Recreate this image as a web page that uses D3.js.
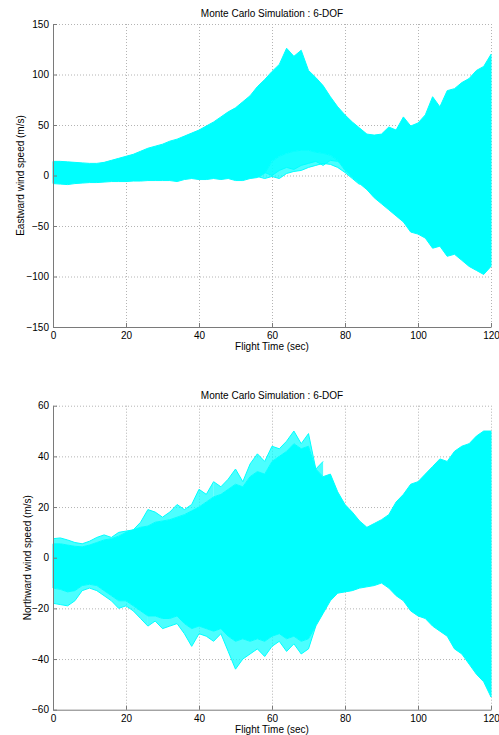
<!DOCTYPE html>
<html>
<head>
<meta charset="utf-8">
<script src="https://cdnjs.cloudflare.com/ajax/libs/d3/7.8.5/d3.min.js"></script>
<style>
body { margin: 0; background: #fff; }
text { font-family: "Liberation Sans", Arial, sans-serif; font-size: 10px; fill: #000; }
.grid line { stroke: #b4b4b4; stroke-width: 1; stroke-dasharray: 1,2; }
.axis path, .axis line { stroke: #7a7a7a; }
</style>
</head>
<body>
<svg class="chart"></svg>
<script>
var WIDTH = 499, HEIGHT = 735;
var LEFT = 53, RIGHT = 491;
var CYAN = "#00ffff";

// sample times (sec)
var TIME = [0,2,4,6,8,10,12,14,16,18,
	20,22,24,26,28,30,32,34,36,38,
	40,42,44,46,48,50,52,54,56,58,
	60,62,64,66,68,70,72,74,76,78,
	80,82,84,86,88,90,92,94,96,98,
	100,102,104,106,108,110,112,114,116,118,
	120];
var X_TICKS = [0, 20, 40, 60, 80, 100, 120];

// eastward wind : envelope of the bulk of the runs
var EAST_UPPER = [14,14,13.5,13,12.5,12,12,13,15,17,
	19,21,24,27,29,31,34,36,39,42,
	45,49,53,58,63,67,73,79,88,95,
	103,110,126,118,124,104,97,89,78,68,
	60,53,47,41,40,41,48,45,58,49,
	52,60,78,68,84,86,92,96,104,108,
	120];
var EAST_LOWER = [-8,-8.5,-9,-8,-7.5,-7,-7,-6.5,-6,-6,
	-6,-5.5,-5.5,-5,-5,-5,-5,-6,-4,-3,
	-4,-4,-3,-4,-3,-5,-5,-3,-2,2,
	14,19,22,24,25,25,23,22,20,15,
	5,-2,-8,-14,-22,-28,-34,-40,-46,-56,
	-58,-62,-72,-70,-80,-78,-84,-90,-94,-98,
	-90];
// single runs straying out of the bulk
var EAST_STRAY_A_T = [56,58,60,62,64,66,68,70,72,74,76,78,80,82,84];
var EAST_STRAY_A = [-1,-3,-1,-3,2,4,5,8,10,12,11,8,3,-3,-9];
var EAST_STRAY_B_T = [58,60,62,64,66,68,70,72,74,76,78,80];
var EAST_STRAY_B = [3,0,5,8,6,10,12,14,10,15,14,10];
var EAST_TICKS = [-150, -100, -50, 0, 50, 100, 150];

// northward wind : envelope of the bulk of the runs
var NORTH_UPPER = [5.5,5.5,5,4.5,4.3,5,6,7,7.5,8.5,
	10,11,12,12.5,14,14.5,15,16,17,18.5,
	20,22,24,25,27,29,28,32,34,33,
	38,40,42,45,43,44,35,32,33,26,
	21,18,14.5,12,13.5,15,17,22,25,29,
	30,33,36,39,38,42,44,45,48,50,
	50];
var NORTH_LOWER = [-12,-12.5,-13.5,-13,-11,-10.5,-11,-13,-15,-17,
	-17,-19,-21,-23,-23,-24,-24,-23,-26,-28,
	-27,-28,-29,-28,-31,-33,-32,-33,-32,-33,
	-31,-30,-32,-31,-33,-32,-27,-22,-17,-14,
	-13.5,-13,-12,-11.5,-11,-10,-12,-15,-17,-21,
	-23,-24,-27,-29,-31,-36,-38,-42,-46,-49,
	-55];
var NORTH_STRAY_A_T = [0,2,4,6,8,10,12,14,16,18,20,22,24,26,28,30,32,34,36,38,40,42,44];
var NORTH_STRAY_A = [7.5,7.8,7,6,5.5,6.5,8,9,8,10,10.5,11,14,19,18,16,18,21,19,21,27,25,30];
var NORTH_STRAY_B_T = [44,46,48,50,52,54,56,58,60,62,64,66,68,70,72,74];
var NORTH_STRAY_B = [30,28,31,35,30,37,41,38,44,43,46,50,45,49,35,38];
var NORTH_STRAY_C_T = [0,2,4,6,8,10,12,14,16,18,20,22,24,26];
var NORTH_STRAY_C = [-18,-18.5,-19,-17,-13,-12,-13,-15,-17,-20,-19,-21,-24,-27];
var NORTH_STRAY_D_T = [26,28,30,32,34,36,38,40,42,44,46,48,50,52,54,56,58,60,62,64,66,68,70,72];
var NORTH_STRAY_D = [-27,-25,-28,-27,-26,-30,-35,-30,-31,-33,-30,-37,-44,-40,-38,-36,-39,-35,-33,-37,-34,-38,-36,-27];
var NORTH_TICKS = [-60, -40, -20, 0, 20, 40, 60];

var svg = d3.select(".chart").attr("width", WIDTH).attr("height", HEIGHT);

function panel( top, bottom, yTicks, upper, lower, strays, ylabel ) {
	var x = d3.scaleLinear().domain([ 0, 120 ]).range([ LEFT, RIGHT ]);
	var y = d3.scaleLinear().domain([ yTicks[0], yTicks[yTicks.length - 1] ]).range([ bottom, top ]);
	var g = svg.append("g");

	// dotted grid under the data
	var grid = g.append("g").attr("class", "grid");
	grid.selectAll("line.v").data( X_TICKS.slice(1) ).enter().append("line").attr("class", "v")
		.attr("x1", d => x(d) + 0.5).attr("x2", d => x(d) + 0.5).attr("y1", top).attr("y2", bottom);
	grid.selectAll("line.h").data( yTicks.slice(1) ).enter().append("line").attr("class", "h")
		.attr("x1", LEFT).attr("x2", RIGHT).attr("y1", d => y(d) + 0.5).attr("y2", d => y(d) + 0.5);

	// the fringe between a stray run and the bulk is only partly covered
	var band = d3.area().x( d => x(d.t) ).y0( d => y(d.a) ).y1( d => y(d.b) );
	strays.forEach( s => {
		var rows = s[0].map( (t, i) => {
			var k = TIME.indexOf(t), v = s[1][i];
			var edge = v > upper[k] ? upper[k] : ( v < lower[k] ? lower[k] : v );
			return { t: t, a: v, b: edge };
		});
		g.append("path").datum( rows ).attr("d", band).attr("fill", CYAN).attr("fill-opacity", 0.7);
	});

	var rows = TIME.map( (t, i) => ({ t: t, a: lower[i], b: upper[i] }) );
	g.append("path").datum( rows ).attr("d", band).attr("fill", CYAN).attr("stroke", CYAN).attr("stroke-width", 1);

	var line = d3.line().x( d => x(d[0]) ).y( d => y(d[1]) );
	strays.forEach( s => {
		g.append("path").datum( s[0].map( (t, i) => [ t, s[1][i] ] ) ).attr("d", line)
			.attr("fill", "none").attr("stroke", CYAN).attr("stroke-width", 1);
	});

	// axes : left and bottom only, ticks pointing in
	g.append("g").attr("class", "axis").attr("transform", "translate(" + LEFT + ",0)")
		.call( d3.axisLeft(y).tickValues( yTicks ).tickSizeInner(-4).tickSizeOuter(0).tickPadding(4) )
		.call( a => a.selectAll("text").style("font-size", "10px").style("font-family", null) );
	g.append("g").attr("class", "axis").attr("transform", "translate(0," + bottom + ")")
		.call( d3.axisBottom(x).tickValues( X_TICKS ).tickSizeInner(-4).tickSizeOuter(0).tickPadding(5) )
		.call( a => a.selectAll("text").style("font-size", "10px").style("font-family", null) );

	g.append("text").attr("x", (LEFT + RIGHT) / 2).attr("y", top - 7).attr("text-anchor", "middle").text("Monte Carlo Simulation : 6-DOF");
	g.append("text").attr("x", (LEFT + RIGHT) / 2).attr("y", bottom + 23).attr("text-anchor", "middle").text("Flight Time (sec)");
	g.append("text").attr("transform", "translate(" + ylabel.x + "," + (top + bottom) / 2 + ") rotate(-90)")
		.attr("text-anchor", "middle").text( ylabel.text );
}

panel( 24, 327, EAST_TICKS, EAST_UPPER, EAST_LOWER,
	[ [EAST_STRAY_A_T, EAST_STRAY_A], [EAST_STRAY_B_T, EAST_STRAY_B] ],
	{ x: 24, text: "Eastward wind speed (m/s)" } );
panel( 405.7, 709.7, NORTH_TICKS, NORTH_UPPER, NORTH_LOWER,
	[ [NORTH_STRAY_A_T, NORTH_STRAY_A], [NORTH_STRAY_B_T, NORTH_STRAY_B], [NORTH_STRAY_C_T, NORTH_STRAY_C], [NORTH_STRAY_D_T, NORTH_STRAY_D] ],
	{ x: 31, text: "Northward wind speed  (m/s)" } );
</script>
</body>
</html>
